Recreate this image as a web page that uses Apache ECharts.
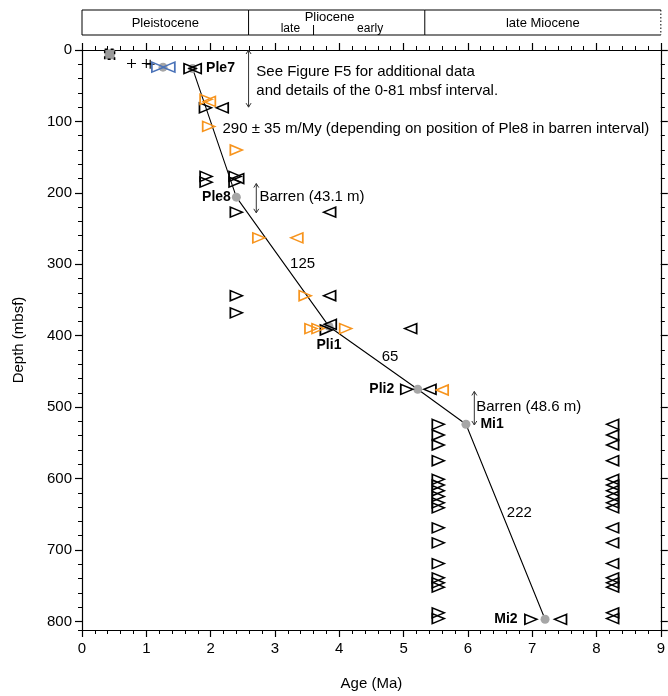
<!DOCTYPE html>
<html><head><meta charset="utf-8">
<script src="https://cdn.jsdelivr.net/npm/echarts@6/dist/echarts.min.js"></script>
<style>html,body{margin:0;padding:0;background:#fff}#c{width:668px;height:696px}</style>
</head><body><div id="c"></div>
<script>
// ---------------- data ----------------
const epochNames = ['Pleistocene', 'Pliocene', 'late Miocene'];
const epochStart = [0, 2.59, 5.33];
const epochEnd = [2.59, 5.33, 9];
const epochLabelAt = [1.295, 3.85, 7.165];
const plioSubNames = ['late', 'early'];
const plioSubAt = [3.24, 4.48];
const plioSubBoundary = 3.6;

const datumNames = ['Ple7', 'Ple8', 'Pli1', 'Pli2', 'Mi1', 'Mi2'];
const datumAges = [1.72, 2.40, 3.84, 5.22, 5.97, 7.20];
const datumDepths = [26, 206, 387, 475, 524, 797];

// black open triangles
const blackRight = [[1.68, 26], [1.92, 81], [1.93, 177], [1.93, 185], [2.38, 177], [2.38, 185], [2.40, 227], [2.40, 344], [2.40, 368], [3.80, 392], [5.05, 475], [6.98, 797]];
const blackLeft = [[1.76, 26], [2.18, 81], [2.42, 180], [3.85, 227], [3.85, 344], [3.86, 384], [5.11, 390], [5.41, 475], [7.44, 797]];
const columnDepths = [524, 539, 553, 575, 601, 609, 617, 625, 634, 641, 669, 690, 719, 739, 746, 752, 788, 796];
const columnRightAge = 5.54;
const columnLeftAge = 8.25;

const orangeRight = [[1.93, 69], [1.97, 107], [2.40, 140], [2.75, 263], [3.47, 344], [3.56, 390], [3.67, 390], [4.10, 390]];
const orangeLeft = [[1.98, 72], [3.34, 263], [5.60, 476]];
const blueRight = [[1.18, 24]];
const blueLeft = [[1.35, 24]];
const grayDots = [[1.26, 24]];
const plusPoints = [[0.77, 19], [1.00, 19], [1.06, 20]];
const squarePoints = [[0.43, 6]];

const noteTexts = ['See Figure F5 for additional data\nand details of the 0-81 mbsf interval.',
  '290 ± 35 m/My (depending on position of Ple8 in barren interval)',
  'Barren (43.1 m)', '125', '65', 'Barren (48.6 m)', '222'];
const noteAges = [2.71, 2.185, 2.76, 3.43, 4.79, 6.13, 6.80];
const noteDepths = [44, 111, 206, 299, 430, 499, 648];

const arrowAges = [2.59, 2.71, 6.10];
const arrowTop = [0, 187, 478];
const arrowBottom = [80, 228, 525];

// ---------------- chart ----------------
const FONT = '"Liberation Sans", Arial, Helvetica, sans-serif';
const rTri = 'path://M0,0L10,5L0,10Z';
const lTri = 'path://M10,0L0,5L10,10Z';
const TRI = [12, 10];
const ORANGE = '#F7941D';
const BLUE = '#4A72B8';
const GRAY = '#A6A6A6';

const chart = echarts.init(document.getElementById('c'));

function triSeries(data, sym, color, z) {
  return {
    type: 'scatter', data: data, symbol: sym, symbolSize: TRI, z: z, silent: true,
    itemStyle: { color: 'rgba(0,0,0,0)', borderColor: color, borderWidth: 1.6, opacity: 1 }
  };
}

const labelPos = {
  Ple7: { position: 'right', distance: 9 },
  Ple8: { position: 'left', distance: 1 },
  Pli1: { position: 'bottom', distance: 7 },
  Pli2: { position: 'left', distance: 19 },
  Mi1: { position: 'right', distance: 10 },
  Mi2: { position: 'left', distance: 23 }
};

const axisLineStyle = { color: '#000', width: 1.2 };
function xAx(pos, labels) {
  return {
    type: 'value', position: pos, min: 0, max: 9, interval: 1,
    axisLine: { show: true, onZero: false, lineStyle: axisLineStyle },
    axisTick: { show: true, inside: false, length: 7, lineStyle: { color: '#000', width: 1.2 } },
    minorTick: { show: true, splitNumber: 5, length: 4, lineStyle: { color: '#000', width: 1 } },
    splitLine: { show: false }, minorSplitLine: { show: false },
    axisLabel: labels ? { fontSize: 15, color: '#000', margin: 11, fontFamily: FONT } : { show: false },
    name: labels ? 'Age (Ma)' : '', nameLocation: 'middle', nameGap: 46,
    nameTextStyle: { fontSize: 15, color: '#000', fontFamily: FONT }
  };
}
function yAx(pos, major, labels) {
  return {
    type: 'value', position: pos, inverse: true, min: 0, max: 812, interval: major ? 100 : 20,
    axisLine: { show: major, onZero: false, lineStyle: axisLineStyle },
    axisTick: { show: true, inside: false, length: major ? 7 : 4, lineStyle: { color: '#000', width: major ? 1.2 : 1 } },
    splitLine: { show: false },
    axisLabel: labels ? {
      fontSize: 15, color: '#000', margin: 10, fontFamily: FONT, showMaxLabel: false,
      formatter: v => (v % 100 === 0 ? String(v) : '')
    } : { show: false },
    name: labels ? 'Depth (mbsf)' : '', nameLocation: 'middle', nameGap: 56,
    nameTextStyle: { fontSize: 15, color: '#000', fontFamily: FONT }
  };
}

const option = {
  animation: false,
  backgroundColor: '#fff',
  grid: { left: 82, right: 6, top: 50, bottom: 64 },
  xAxis: [xAx('bottom', true), xAx('top', false)],
  yAxis: [yAx('left', true, true), yAx('left', false, false), yAx('right', true, false), yAx('right', false, false)],
  series: [
    // header (epochs)
    {
      type: 'custom', clip: false, silent: true, z: 1,
      data: epochStart.map((s, i) => [s, epochEnd[i]]),
      renderItem: function (params, api) {
        const i = params.dataIndex;
        const x0 = api.coord([epochStart[i], 0])[0];
        const x1 = api.coord([epochEnd[i], 0])[0];
        const xt = api.coord([epochLabelAt[i], 0])[0];
        const ls = { stroke: '#000', lineWidth: 1.2 };
        const ch = [
          { type: 'line', shape: { x1: x0, y1: 10, x2: x1, y2: 10 }, style: ls },
          { type: 'line', shape: { x1: x0, y1: 35, x2: x1, y2: 35 }, style: ls },
          { type: 'line', shape: { x1: x0, y1: 10, x2: x0, y2: 35 }, style: { stroke: '#000', lineWidth: 1 } }
        ];
        if (i === epochNames.length - 1) {
          ch.push({ type: 'line', shape: { x1: x1, y1: 10, x2: x1, y2: 35 }, style: { stroke: '#000', lineWidth: 1, lineDash: [1.5, 2] } });
        }
        if (i === 1) {
          ch.push({ type: 'text', x: xt, y: 17.5, style: { text: epochNames[i], font: '13px ' + FONT, fill: '#000', align: 'center', verticalAlign: 'middle' } });
          const xs = api.coord([plioSubBoundary, 0])[0];
          ch.push({ type: 'line', shape: { x1: xs, y1: 25, x2: xs, y2: 35 }, style: { stroke: '#000', lineWidth: 1 } });
          plioSubNames.forEach((n, k) => {
            const xk = api.coord([plioSubAt[k], 0])[0];
            ch.push({ type: 'text', x: xk, y: 28.5, style: { text: n, font: '12px ' + FONT, fill: '#000', align: 'center', verticalAlign: 'middle' } });
          });
        } else {
          ch.push({ type: 'text', x: xt, y: 23, style: { text: epochNames[i], font: '13px ' + FONT, fill: '#000', align: 'center', verticalAlign: 'middle' } });
        }
        return { type: 'group', children: ch };
      }
    },
    // age model line
    {
      type: 'line', data: datumAges.map((a, i) => [a, datumDepths[i]]), symbol: 'none', z: 3, silent: true,
      lineStyle: { color: '#000', width: 1.1 }
    },
    // datum circles
    {
      type: 'scatter', z: 4, silent: true, symbol: 'circle', symbolSize: 9,
      itemStyle: { color: GRAY, opacity: 1 },
      data: datumNames.map((n, i) => ({
        name: n, value: [datumAges[i], datumDepths[i]],
        label: Object.assign({ show: true, formatter: '{b}', fontSize: 14, fontWeight: 'bold', color: '#000', fontFamily: FONT }, labelPos[n])
      }))
    },
    { type: 'scatter', z: 4, silent: true, symbol: 'circle', symbolSize: 9, itemStyle: { color: GRAY, opacity: 1 }, data: grayDots },
    // square
    {
      type: 'scatter', z: 5, silent: true, symbol: 'rect', symbolSize: 10, data: squarePoints,
      itemStyle: { color: '#999', borderColor: '#000', borderWidth: 1.4, borderType: [3, 3], opacity: 1 }
    },
    // plus signs
    {
      type: 'scatter', z: 5, silent: true, symbol: 'path://M0,5L10,5M5,0L5,10', symbolSize: 9, data: plusPoints,
      itemStyle: { color: 'rgba(0,0,0,0)', borderColor: '#000', borderWidth: 1.1, opacity: 1 }
    },
    triSeries(blackRight.concat(columnDepths.map(d => [columnRightAge, d])), rTri, '#000', 6),
    triSeries(blackLeft.concat(columnDepths.map(d => [columnLeftAge, d])), lTri, '#000', 6),
    triSeries(orangeRight, rTri, ORANGE, 6),
    triSeries(orangeLeft, lTri, ORANGE, 6),
    triSeries(blueRight, rTri, BLUE, 6),
    triSeries(blueLeft, lTri, BLUE, 6),
    // arrows
    {
      type: 'custom', clip: false, silent: true, z: 7,
      data: arrowAges.map((a, i) => [a, arrowTop[i], arrowBottom[i]]),
      renderItem: function (params, api) {
        const i = params.dataIndex;
        const p1 = api.coord([arrowAges[i], arrowTop[i]]);
        const p2 = api.coord([arrowAges[i], arrowBottom[i]]);
        const s = { stroke: '#333', lineWidth: 1, fill: null };
        const w = 2.5, h = 4;
        return {
          type: 'group', children: [
            { type: 'line', shape: { x1: p1[0], y1: p1[1], x2: p2[0], y2: p2[1] }, style: s },
            { type: 'polyline', shape: { points: [[p1[0] - w, p1[1] + h], [p1[0], p1[1]], [p1[0] + w, p1[1] + h]] }, style: s },
            { type: 'polyline', shape: { points: [[p2[0] - w, p2[1] - h], [p2[0], p2[1]], [p2[0] + w, p2[1] - h]] }, style: s }
          ]
        };
      }
    },
    // notes
    {
      type: 'custom', clip: false, silent: true, z: 8,
      data: noteAges.map((a, i) => [a, noteDepths[i]]),
      renderItem: function (params, api) {
        const i = params.dataIndex;
        const p = api.coord([noteAges[i], noteDepths[i]]);
        const centered = /^\d+$/.test(noteTexts[i]);
        return {
          type: 'text', x: p[0], y: p[1],
          style: { text: noteTexts[i], font: '15px ' + FONT, fill: '#000', align: centered ? 'center' : 'left', verticalAlign: 'middle', lineHeight: 19 }
        };
      }
    }
  ]
};
chart.setOption(option);
</script>
</body></html>
